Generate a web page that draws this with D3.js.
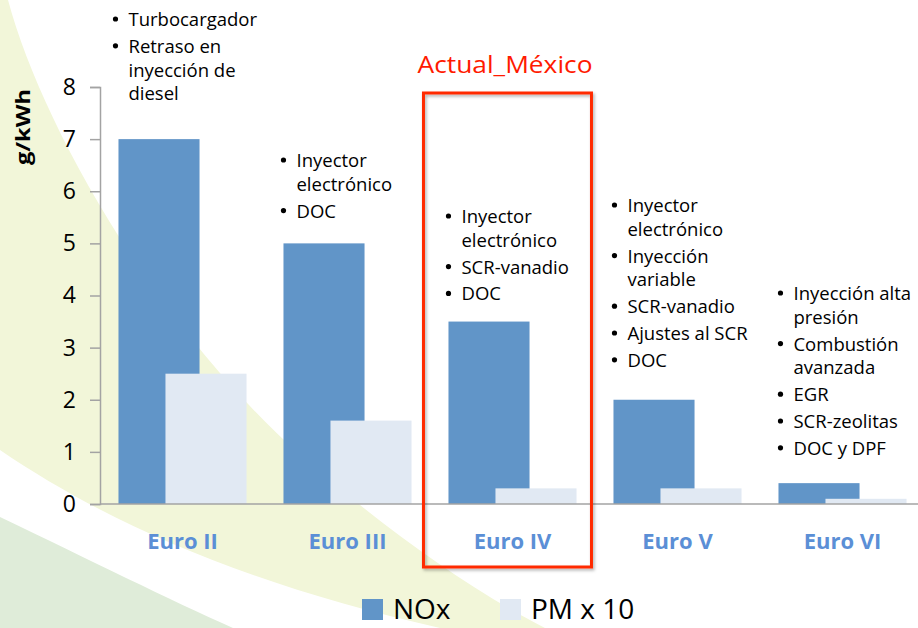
<!DOCTYPE html>
<html><head><meta charset="utf-8">
<script src="https://cdn.jsdelivr.net/npm/d3@7"></script>
<style>html,body{margin:0;padding:0;background:#fff;}svg{display:block;font-family:"Open Sans",sans-serif;}</style>
</head><body>
<svg id="chart" width="918" height="628"></svg>
<script>
// ---- data ----
const categories = ["Euro II", "Euro III", "Euro IV", "Euro V", "Euro VI"];
const noxValues = [7, 5, 3.5, 2, 0.4];
const pmValues = [2.5, 1.6, 0.3, 0.3, 0.1];
const yTicks = [0, 1, 2, 3, 4, 5, 6, 7, 8];
const seriesNames = ["NOx", "PM x 10"];
const yTitle = "g/kWh";
const highlightLabel = "Actual_México";
const highlightCategory = "Euro IV";
const notesEuroII = [["Turbocargador"], ["Retraso en", "inyección de", "diesel"]];
const notesEuroIII = [["Inyector", "electrónico"], ["DOC"]];
const notesEuroIV = [["Inyector", "electrónico"], ["SCR-vanadio"], ["DOC"]];
const notesEuroV = [["Inyector", "electrónico"], ["Inyección", "variable"], ["SCR-vanadio"], ["Ajustes al SCR"], ["DOC"]];
const notesEuroVI = [["Inyección alta", "presión"], ["Combustión", "avanzada"], ["EGR"], ["SCR-zeolitas"], ["DOC y DPF"]];
const notes = [notesEuroII, notesEuroIII, notesEuroIV, notesEuroV, notesEuroVI];

// ---- layout ----
const noteTop = [26, 167, 223, 212, 300];
const noteDx = [10, 13, 13, 14, 15];
const colNox = "#6195c8", colPm = "#e1e9f3", colLabel = "#5b8fd6";
const svg = d3.select("#chart");

// background swooshes
const bg = svg.append("g");
bg.append("path").attr("fill", "#f2f6d9")
  .attr("d", "M0,0 L8,0 C40,120 150,320 300,455 C380,525 470,590 545,628 L0,628 Z");
bg.append("path").attr("fill", "#ffffff")
  .attr("d", "M0,450 C110,525 250,585 440,628 L0,628 Z");
bg.append("path").attr("fill", "#dfecd9")
  .attr("d", "M0,517 C90,560 170,600 233,628 L0,628 Z");

const x = d3.scaleBand().domain(categories).range([100, 925]).paddingInner(0.224).paddingOuter(0.112);
const y = d3.scaleLinear().domain([0, 8]).range([504, 87]);
const barW = x.bandwidth() * 0.633;

const rows = categories.map((c, i) => ({c, nox: noxValues[i], pm: pmValues[i]}));

svg.append("g").selectAll("rect").data(rows).join("rect")
  .attr("x", d => x(d.c)).attr("width", barW)
  .attr("y", d => y(d.nox)).attr("height", d => y(0) - y(d.nox))
  .attr("fill", colNox);
svg.append("g").selectAll("rect").data(rows).join("rect")
  .attr("x", d => x(d.c) + x.bandwidth() - barW).attr("width", barW)
  .attr("y", d => y(d.pm)).attr("height", d => y(0) - y(d.pm))
  .attr("fill", colPm);

// y axis
const yAxis = svg.append("g").attr("transform", "translate(100,0)")
  .call(d3.axisLeft(y).tickValues(yTicks).tickFormat(d3.format("d")).tickSize(10).tickSizeOuter(10).tickPadding(14));
yAxis.select(".domain").attr("stroke", "#a3a3a3").attr("stroke-width", 1.5);
yAxis.selectAll(".tick line").attr("stroke", "#a3a3a3").attr("stroke-width", 1.5);
yAxis.selectAll(".tick text").attr("font-size", 23).attr("fill", "#000").attr("font-family", "Open Sans");

// x axis
const xAxis = svg.append("g").attr("transform", "translate(0,504)")
  .call(d3.axisBottom(x).tickSize(0).tickPadding(29));
xAxis.select(".domain").attr("d", "M100,0H918").attr("stroke", "#a3a3a3").attr("stroke-width", 1.5);
xAxis.selectAll(".tick text").attr("font-size", 22).attr("font-weight", "bold")
  .attr("fill", colLabel).attr("font-family", "Open Sans");

// y title
svg.append("text").attr("transform", "translate(30,127) rotate(-90)")
  .attr("text-anchor", "middle").attr("font-size", 20).attr("font-weight", "bold")
  .attr("textLength", 76).attr("lengthAdjust", "spacingAndGlyphs").text(yTitle);

// annotations
categories.forEach((c, i) => {
  const g = svg.append("g");
  const tx = x(c) + noteDx[i];
  let yy = noteTop[i];
  notes[i].forEach((item, k) => {
    if (k > 0) yy += 3;
    g.append("circle").attr("cx", tx - 13).attr("cy", yy - 7).attr("r", 2.6).attr("fill", "#000");
    item.forEach((line, j) => {
      if (j > 0) yy += 23.8;
      g.append("text").attr("x", tx).attr("y", yy).attr("font-size", 18.5).attr("fill", "#000").text(line);
    });
    yy += 23.8;
  });
});

// highlight box
const hx = x(highlightCategory);
const defs = svg.append("defs");
const f = defs.append("filter").attr("id", "sh").attr("x", "-10%").attr("y", "-10%").attr("width", "120%").attr("height", "120%");
f.append("feDropShadow").attr("dx", 1.5).attr("dy", 2).attr("stdDeviation", 1.5).attr("flood-color", "#000").attr("flood-opacity", 0.3);
svg.append("rect").attr("x", hx - 25).attr("y", 93).attr("width", 168).attr("height", 474)
  .attr("fill", "none").attr("stroke", "#ff2a00").attr("stroke-width", 3).attr("filter", "url(#sh)");
svg.append("text").attr("x", hx + x.bandwidth() / 2 - 7.5).attr("y", 73).attr("text-anchor", "middle")
  .attr("font-size", 24).attr("fill", "#ff1a00").attr("textLength", 175).attr("lengthAdjust", "spacingAndGlyphs")
  .text(highlightLabel);

// legend
const leg = svg.append("g");
const legX = [362, 500], legCol = [colNox, colPm];
seriesNames.forEach((s, i) => {
  leg.append("rect").attr("x", legX[i]).attr("y", 599).attr("width", 21).attr("height", 21).attr("fill", legCol[i]);
  leg.append("text").attr("x", legX[i] + 31).attr("y", 619).attr("font-size", 28).attr("fill", "#000").text(s);
});
</script>
</body></html>
